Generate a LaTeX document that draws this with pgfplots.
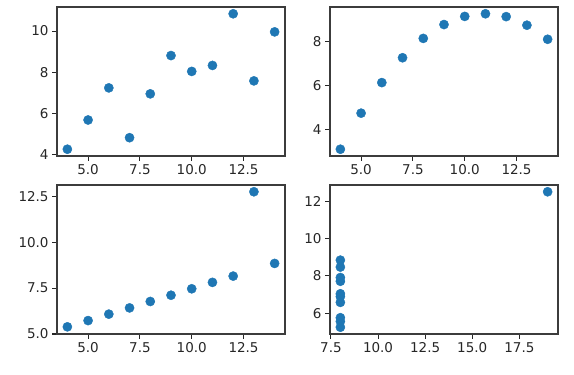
\documentclass[border=0pt]{standalone}
\usepackage{pgfplots}
\pgfplotsset{compat=1.18}
\usepackage{fontspec}
\setmainfont{DejaVu Sans}
\definecolor{mplblue}{HTML}{1F77B4}
\definecolor{axgray}{HTML}{262626}
\pgfplotsset{
  quad/.style={
    scale only axis, width=228pt, height=149pt,
    axis line style={axgray!90, line width=1.1pt},
    tick style={axgray, line width=1.1pt},
    tick align=outside, major tick length=4.9pt,
    xtick pos=bottom, ytick pos=left,
    ticklabel style={font=\fontsize{13.5}{15}\selectfont, text=axgray},
    /pgf/number format/assume math mode=true,
    scaled ticks=false,
  },
  fix1/.style={/pgf/number format/.cd, fixed, fixed zerofill, precision=1},
  dots/.style={only marks, mark=*, mark size=4.6pt, color=mplblue, mark options={draw=mplblue, fill=mplblue}},
}
\begin{document}
\begin{tikzpicture}[x=1pt,y=1pt]
\useasboundingbox (0,0) rectangle (574,375);
% top-left
\begin{axis}[quad, at={(57pt,219pt)}, anchor=south west,
  xmin=3.5, xmax=14.5, ymin=3.931, ymax=11.169,
  xtick={5,7.5,10,12.5}, xticklabel style={fix1},
  ytick={4,6,8,10}]
\addplot[dots] coordinates {
(10,8.04) (8,6.95) (13,7.58) (9,8.81) (11,8.33) (14,9.96) (6,7.24) (4,4.26) (12,10.84) (7,4.82) (5,5.68)};
\end{axis}
% top-right
\begin{axis}[quad, at={(330pt,219pt)}, anchor=south west,
  xmin=3.5, xmax=14.5, ymin=2.792, ymax=9.568,
  xtick={5,7.5,10,12.5}, xticklabel style={fix1},
  ytick={4,6,8}]
\addplot[dots] coordinates {
(10,9.14) (8,8.14) (13,8.74) (9,8.77) (11,9.26) (14,8.10) (6,6.13) (4,3.10) (12,9.13) (7,7.26) (5,4.74)};
\end{axis}
% bottom-left
\begin{axis}[quad, at={(57pt,41pt)}, anchor=south west,
  xmin=3.5, xmax=14.5, ymin=5.0, ymax=13.1075,
  xtick={5,7.5,10,12.5}, xticklabel style={fix1},
  ytick={5,7.5,10,12.5}, yticklabel style={fix1}]
\addplot[dots] coordinates {
(10,7.46) (8,6.77) (13,12.74) (9,7.11) (11,7.81) (14,8.84) (6,6.08) (4,5.39) (12,8.15) (7,6.42) (5,5.73)};
\end{axis}
% bottom-right
\begin{axis}[quad, at={(330pt,41pt)}, anchor=south west,
  xmin=7.45, xmax=19.55, ymin=4.8875, ymax=12.8625,
  xtick={7.5,10,12.5,15,17.5}, xticklabel style={fix1},
  ytick={6,8,10,12}]
\addplot[dots] coordinates {
(8,6.58) (8,5.76) (8,7.71) (8,8.84) (8,8.47) (8,7.04) (8,5.25) (19,12.50) (8,5.56) (8,7.91) (8,6.89)};
\end{axis}
\end{tikzpicture}
\end{document}
